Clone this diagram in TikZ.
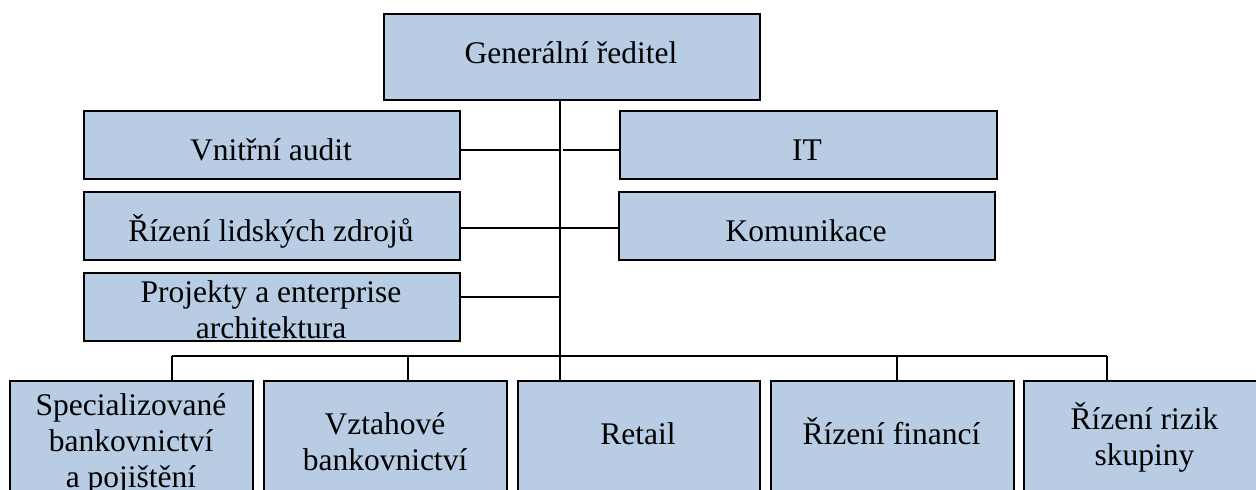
\documentclass[tikz,border=0pt]{standalone}
\usepackage{fontspec}
\setmainfont{Liberation Serif}
\definecolor{boxblue}{HTML}{B8CCE4}
% uniform line strut: height 27pt, depth 9pt (= one 36pt baseline step)
\newcommand{\bstrut}{\rule[-9pt]{0pt}{36pt}}
\begin{document}
\begin{tikzpicture}[x=1pt,y=-1pt,
  unit/.style={rectangle, draw=black, line width=1.8pt, fill=boxblue,
    inner sep=0pt, anchor=north west},
  upper/.style={unit, minimum width=376pt, minimum height=68pt},
  lower/.style={unit, minimum width=243pt, minimum height=120pt},
  caption/.style={font=\fontsize{31.5}{36}\selectfont, align=center,
    inner sep=0pt},
  link/.style={line width=1.8pt}]
\useasboundingbox (0,0) rectangle (1256,490);

% ---- boxes ----
\node[unit, minimum width=376pt, minimum height=86pt] (ceo) at (383,13) {};
\node[upper] (audit) at (83,110) {};
\node[upper, minimum width=377pt] (it) at (619,110) {};
\node[upper] (hr) at (83,191) {};
\node[upper] (comm) at (618,191) {};
\node[upper] (proj) at (83,272) {};
\node[lower] (spec) at (9,380) {};
\node[lower] (rel) at (263,380) {};
\node[lower, minimum width=242pt] (retail) at (517,380) {};
\node[lower] (fin) at (770,380) {};
\node[lower] (risk) at (1023,380) {};

% ---- captions ----
\node[caption] (ceo-t) at (571,54) {\bstrut Generální ředitel};
\node[caption] (audit-t) at (271,151) {\bstrut Vnitřní audit};
\node[caption] (it-t) at (807,151) {\bstrut IT};
\node[caption] (hr-t) at (271,232) {\bstrut Řízení lidských zdrojů};
\node[caption] (comm-t) at (806,232) {\bstrut Komunikace};
\node[caption] (proj-t) at (271,311) {\bstrut Projekty a enterprise\\\bstrut architektura};
\node[caption] (spec-t) at (131,442) {\bstrut Specializované\\\bstrut bankovnictví\\\bstrut a pojištění};
\node[caption] (rel-t) at (385,443.5) {\bstrut Vztahové\\\bstrut bankovnictví};
\node[caption] (retail-t) at (638,435) {\bstrut Retail};
\node[caption] (fin-t) at (891.5,435) {\bstrut Řízení financí};
\node[caption] (risk-t) at (1144.5,438.5) {\bstrut Řízení rizik\\\bstrut skupiny};

% ---- connectors ----
\coordinate (spine) at (560,356);
\coordinate (d1) at (172,356);
\coordinate (d2) at (408,356);
\coordinate (d4) at (897,356);
\coordinate (d5) at (1107,356);

% trunk from the director down to Retail
\draw[link] (ceo.south -| spine) -- (retail.north -| spine);
% staff units
\draw[link] ([yshift=-5pt]audit.east) -- ([yshift=-5pt]audit.east -| spine);
\draw[link] ([yshift=-5pt]it.west) -- ([yshift=-5pt,xshift=3pt]it.west -| spine);
\draw[link] ([yshift=-2pt]hr.east) -- ([yshift=-2pt]comm.west);
\draw[link] ([yshift=10pt]proj.east) -- ([yshift=10pt]proj.east -| spine);
% divisions bus
\draw[link] (d1) -- (d5);
\draw[link] (d1) -- (d1 |- spec.north);
\draw[link] (d2) -- (d2 |- rel.north);
\draw[link] (d4) -- (d4 |- fin.north);
\draw[link] (d5) -- (d5 |- risk.north);
\end{tikzpicture}
\end{document}
